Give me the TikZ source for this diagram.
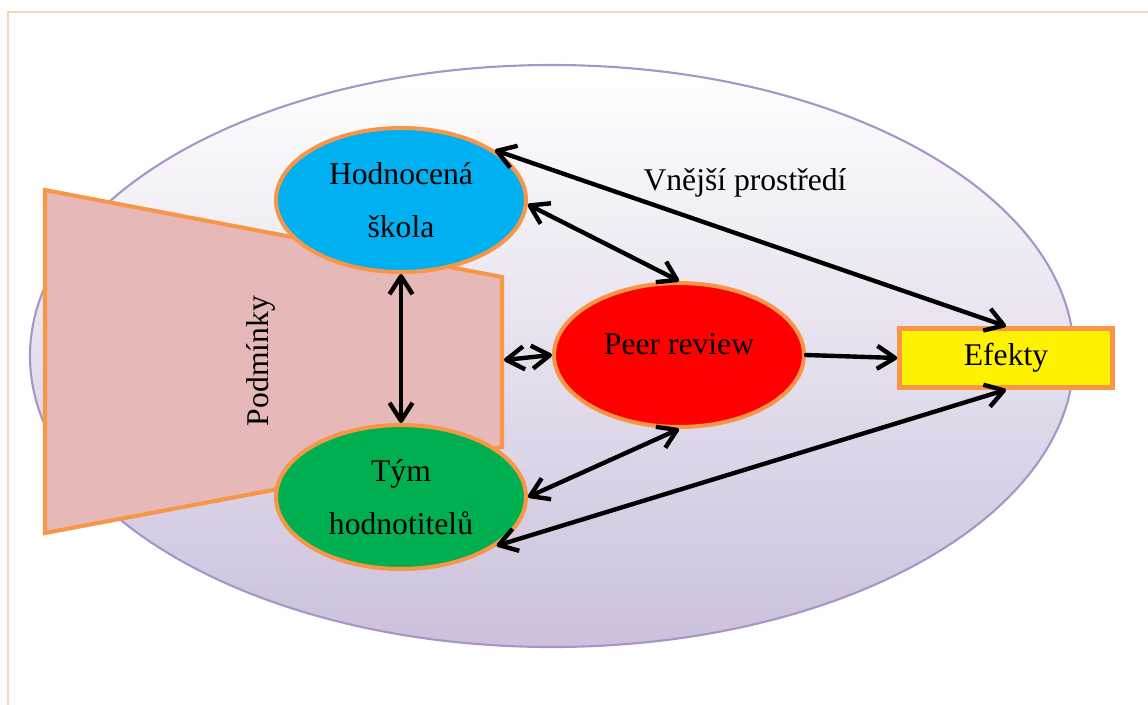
\documentclass[tikz,border=0pt]{standalone}
\usepackage{fontspec}
\setmainfont{Liberation Serif}
\usepackage{tikz}
\usetikzlibrary{shapes.geometric, arrows.meta}

\definecolor{frameor}{RGB}{250,215,180}
\definecolor{lavline}{RGB}{166,150,200}
\definecolor{lavfill}{RGB}{204,192,220}
\definecolor{rosefill}{RGB}{230,185,184}
\definecolor{orline}{RGB}{247,150,70}
\definecolor{skyfill}{RGB}{0,176,240}
\definecolor{grfill}{RGB}{0,176,80}

\begin{document}
\begin{tikzpicture}[x=0.02cm, y=-0.02cm,
    every node/.style={font=\fontsize{18}{30}\selectfont},
    bubble/.style={draw=orline, ellipse, line width=2.3pt, inner sep=0pt, minimum width=5cm, minimum height=2.88cm, align=center},
    link/.style={line width=2.5pt, line cap=round, arrows={Straight Barb[length=0.36cm, width=0.46cm, line join=round]-Straight Barb[length=0.36cm, width=0.46cm, line join=round]}}]
    \useasboundingbox (0,0) rectangle (1148,704);
    \draw[frameor, line width=1.2pt] (8,12) rectangle (1170,730);

    % vnejsi prostredi
    \shade[top color=white, bottom color=lavfill, draw=lavline, line width=1.2pt] (552,356) ellipse [x radius=522, y radius=291];
    \node at (745,183) {Vnější prostředí};

    % podminky
    \draw[fill=rosefill, draw=orline, line width=2.3pt] (45,190) -- (502,277) -- (502,447) -- (45,533) -- cycle;
    \coordinate (P) at (504,360);
    \node[rotate=90] at (261,361) {Podmínky};

    \node[bubble, fill=skyfill] (S) at (401,200) {Hodnocená\\škola};
    \node[bubble, fill=grfill] (T) at (401,497) {Tým\\hodnotitelů};
    \node[bubble, fill=red] (R) at (679,355) {\raisebox{12pt}{Peer review}};
    \node[draw=orline, fill=yellow, line width=2.6pt, minimum width=4.26cm, minimum height=1.18cm] (E) at (1006,358) {Efekty};

    \draw[link] (S.28) -- (E.north);
    \draw[link] (S.-2) -- (R.north);
    \draw[link] (S.south) -- (T.north);
    \draw[link] (P) -- (R.west);
    \draw[link, arrows={-Straight Barb[length=0.36cm, width=0.46cm, line join=round]}] (R.east) -- (E.west);
    \draw[link] (T.east) -- (R.south);
    \draw[link] (T.-27) -- (E.south);
\end{tikzpicture}
\end{document}
